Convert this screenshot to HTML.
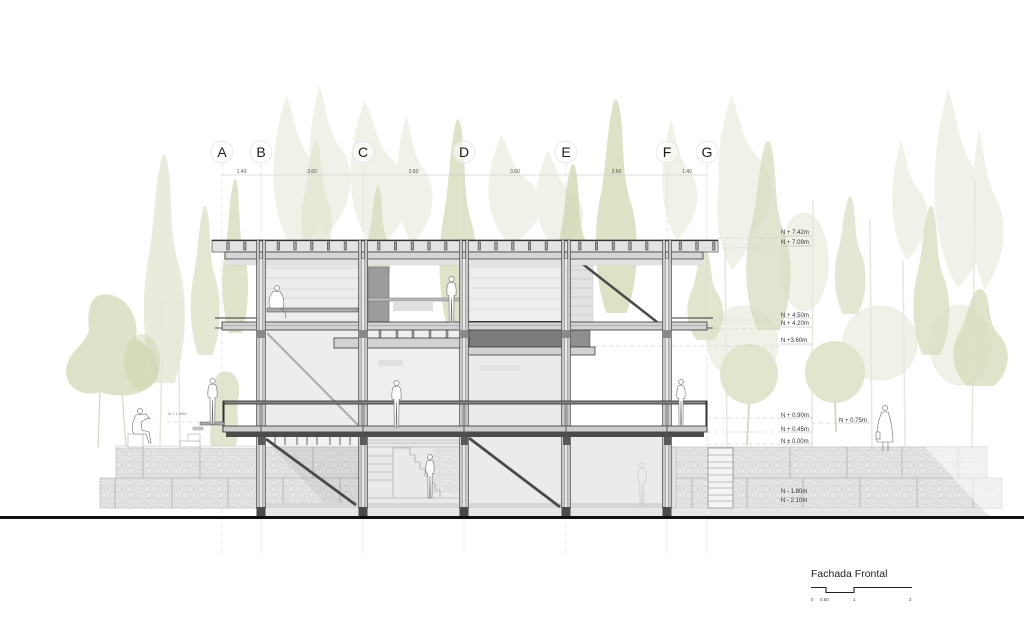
<!DOCTYPE html>
<html><head><meta charset="utf-8"><style>
html,body{margin:0;padding:0;background:#fff;}
svg{display:block;}
text{font-family:"Liberation Sans",Arial,sans-serif;}
</style></head><body>
<svg width="1024" height="622" viewBox="0 0 1024 622" xmlns="http://www.w3.org/2000/svg">
<defs>
<path id="fl" d="M0.3,1 C0.05,0.85 0.02,0.62 0.18,0.45 C0.3,0.32 0.3,0.15 0.45,0.02 C0.5,-0.01 0.56,0.01 0.6,0.08 C0.68,0.25 0.62,0.35 0.8,0.48 C1,0.62 0.98,0.85 0.72,1 Z"/>
<path id="lf" d="M0.45,1 C0.2,0.8 0.1,0.45 0.35,0 C0.5,0.25 0.45,0.3 0.7,0.45 C0.9,0.65 0.75,0.85 0.45,1 Z"/>
<pattern id="st" width="18" height="12" patternUnits="userSpaceOnUse">
<rect width="18" height="12" fill="#e6e6e6"/>
<path d="M1,1 L7,0.5 L8,5 L2,5.5 Z M9,1 L16,1.5 L17,5.5 L10,5 Z M0.5,7 L5,6.5 L6,11 L1,11.5 Z M7,7 L12,6.5 L13,11 L8,11.5 Z M14,7 L17.5,7 L17.5,11 L14.5,11.5 Z" fill="none" stroke="#cdcdcd" stroke-width=".5"/>
</pattern>
</defs>

<!-- ===== TREES: very pale layer ===== -->
<g fill="#eef1e6" opacity="0.9">
<use href="#lf" transform="translate(255,95) scale(90,160)"/>
<use href="#lf" transform="translate(295,85) scale(70,150)"/>
<use href="#lf" transform="translate(330,100) scale(100,150)"/>
<use href="#lf" transform="translate(385,115) scale(60,130)"/>
<use href="#lf" transform="translate(470,135) scale(90,110)"/>
<use href="#lf" transform="translate(520,150) scale(80,100)"/>
<use href="#lf" transform="translate(650,120) scale(60,120)"/>
<use href="#lf" transform="translate(700,95) scale(90,150)"/>
<use href="#lf" transform="translate(705,150) scale(60,120)"/>
<use href="#lf" transform="translate(915,88) scale(95,200)"/>
<use href="#lf" transform="translate(880,140) scale(60,120)"/>
<use href="#lf" transform="translate(960,130) scale(55,160)"/>
</g>
<g fill="#f0f2e8" stroke="#e4e7d9" stroke-width=".6">
<ellipse cx="804" cy="262" rx="24" ry="49"/>
<ellipse cx="743" cy="343" rx="35" ry="37"/>
<ellipse cx="880" cy="343" rx="37" ry="37"/>
<ellipse cx="960" cy="345" rx="30" ry="40"/>
</g>
<g stroke="#e6e8e0" stroke-width="1.5" fill="none">
<line x1="163" y1="300" x2="160" y2="447"/>
<line x1="178" y1="300" x2="180" y2="447"/>
<line x1="813" y1="200" x2="812" y2="447"/>
<line x1="870" y1="220" x2="872" y2="447"/>
<line x1="975" y1="180" x2="972" y2="447"/>
<line x1="725" y1="240" x2="727" y2="447"/>
<line x1="903" y1="260" x2="905" y2="447"/>
</g>

<!-- ===== TREES: medium layer ===== -->
<g opacity="0.8">
<use href="#fl" fill="#e3e8d4" transform="translate(140,153) scale(48,230)"/>
<use href="#fl" fill="#dce3c8" transform="translate(188,205) scale(34,150)"/>
<use href="#fl" fill="#d6ddbe" transform="translate(220,178) scale(30,155)"/>
<use href="#fl" fill="#e3e8d5" transform="translate(298,140) scale(36,120)"/>
<use href="#fl" fill="#d8dfc1" transform="translate(364,185) scale(28,110)"/>
<use href="#fl" fill="#d6ddbd" transform="translate(436,118) scale(44,215)"/>
<use href="#fl" fill="#d2dab5" transform="translate(553,163) scale(40,160)"/>
<use href="#fl" fill="#d5dcb9" transform="translate(592,98) scale(48,215)"/>
<use href="#fl" fill="#dae1c4" transform="translate(684,250) scale(42,90)"/>
<use href="#fl" fill="#d8dfc2" transform="translate(742,140) scale(52,190)"/>
<use href="#fl" fill="#dde3ca" transform="translate(832,196) scale(36,118)"/>
<use href="#fl" fill="#d9e0c3" transform="translate(910,205) scale(42,150)"/>
<use href="#fl" fill="#d6ddbd" transform="translate(948,288) scale(64,98)"/>
</g>
<path d="M100,295 C125,290 140,318 136,338 C152,348 163,365 156,380 C146,396 120,399 100,392 C80,398 62,385 67,365 C71,350 85,345 89,330 C87,312 90,298 100,295 Z" fill="#d7dec0" opacity=".85"/>
<ellipse cx="142" cy="362" rx="18" ry="28" fill="#c9d2a8" opacity=".45"/>
<g stroke="#d3d8c2" stroke-width="1.2"><line x1="100" y1="392" x2="98" y2="447"/><line x1="122" y1="392" x2="126" y2="447"/></g>
<ellipse cx="749" cy="374" rx="29" ry="30" fill="#e0e6cd"/>
<ellipse cx="835" cy="372" rx="30" ry="31" fill="#e0e6cd"/>
<g stroke="#d6dac6" stroke-width="2"><line x1="749" y1="403" x2="747" y2="445"/><line x1="835" y1="402" x2="836" y2="432"/></g>
<path d="M222,372 C236,368 242,385 238,400 C236,420 242,440 232,452 C222,458 210,452 210,440 C210,425 214,410 214,395 C214,382 215,374 222,372 Z" fill="#d8dfc1" opacity=".8"/>

<!-- ===== AXES ===== -->
<g stroke="#d2d2d2" stroke-width=".6" stroke-dasharray="5 3" fill="none">
<line x1="222" y1="164" x2="222" y2="556"/>
<line x1="261" y1="164" x2="261" y2="556"/>
<line x1="363" y1="164" x2="363" y2="556"/>
<line x1="464" y1="164" x2="464" y2="556"/>
<line x1="566" y1="164" x2="566" y2="556"/>
<line x1="667" y1="164" x2="667" y2="556"/>
<line x1="707" y1="164" x2="707" y2="556"/>
</g>
<g fill="#fff" fill-opacity=".55" stroke="#e0e0e0" stroke-width=".7">
<circle cx="222" cy="152" r="11"/><circle cx="261" cy="152" r="11"/><circle cx="363" cy="152" r="11"/>
<circle cx="464" cy="152" r="11"/><circle cx="566" cy="152" r="11"/><circle cx="667" cy="152" r="11"/><circle cx="707" cy="152" r="11"/>
</g>
<g font-size="14" fill="#1a1a1a" text-anchor="middle">
<text x="222" y="157">A</text><text x="261" y="157">B</text><text x="363" y="157">C</text>
<text x="464" y="157">D</text><text x="566" y="157">E</text><text x="667" y="157">F</text><text x="707" y="157">G</text>
</g>
<line x1="222" y1="175" x2="707" y2="175" stroke="#c4c4c4" stroke-width=".6"/>
<g font-size="5" fill="#555" text-anchor="middle">
<text x="241.5" y="173">1.40</text><text x="312" y="173">3.60</text><text x="413.5" y="173">3.60</text>
<text x="515" y="173">3.60</text><text x="616.5" y="173">3.60</text><text x="687" y="173">1.40</text>
</g>

<!-- ===== GABIONS ===== -->
<rect x="116" y="447" width="871" height="31" fill="url(#st)" stroke="#b4b4b4" stroke-width=".6"/>
<rect x="100" y="478" width="902" height="30" fill="url(#st)" stroke="#b4b4b4" stroke-width=".6"/>
<rect x="116" y="446" width="142" height="2.5" fill="#f2f2f2" stroke="#bdbdbd" stroke-width=".4"/>
<g stroke="#a8a8a8" stroke-width=".7">
<line x1="143" y1="447" x2="143" y2="478"/><line x1="200" y1="447" x2="200" y2="478"/><line x1="257" y1="447" x2="257" y2="478"/><line x1="313" y1="447" x2="313" y2="478"/>
<line x1="733" y1="447" x2="733" y2="478"/><line x1="790" y1="447" x2="790" y2="478"/><line x1="847" y1="447" x2="847" y2="478"/><line x1="902" y1="447" x2="902" y2="478"/><line x1="958" y1="447" x2="958" y2="478"/>
<line x1="115" y1="478" x2="115" y2="508"/><line x1="172" y1="478" x2="172" y2="508"/><line x1="228" y1="478" x2="228" y2="508"/><line x1="283" y1="478" x2="283" y2="508"/><line x1="340" y1="478" x2="340" y2="508"/>
<line x1="692" y1="478" x2="692" y2="508"/><line x1="747" y1="478" x2="747" y2="508"/><line x1="803" y1="478" x2="803" y2="508"/><line x1="860" y1="478" x2="860" y2="508"/><line x1="917" y1="478" x2="917" y2="508"/><line x1="973" y1="478" x2="973" y2="508"/>
</g>
<polygon points="925,447 1003,447 1003,508 981,508" fill="#fff" opacity=".55"/>
<polygon points="258,508 981,508 990,516 258,516" fill="#e7e7e7"/>
<polygon points="262,437 360,437 360,508 330,508" fill="#000" opacity=".05"/>

<!-- ===== BUILDING ===== -->
<rect x="266" y="259" width="93" height="63" fill="#ececec"/>
<g stroke="#d0d0d0" stroke-width=".8"><line x1="266" y1="268" x2="359" y2="268"/><line x1="266" y1="278" x2="359" y2="278"/><line x1="266" y1="289" x2="359" y2="289"/><line x1="266" y1="298" x2="359" y2="298"/></g>
<rect x="267" y="308" width="91" height="4" fill="#a8a8a8" stroke="#444" stroke-width=".5"/>
<rect x="368" y="262" width="40" height="2" fill="#c4c4c4"/>
<rect x="368" y="267" width="21" height="55" fill="#9c9c9c" stroke="#666" stroke-width=".6"/>
<rect x="368" y="298" width="92" height="3" fill="#bbb" stroke="#777" stroke-width=".5"/>
<rect x="393" y="301" width="40" height="10" fill="#e0e0e0"/>
<rect x="469" y="259" width="93" height="63" fill="#eeeeee" stroke="#bdbdbd" stroke-width=".5"/>
<g stroke="#d2d2d2" stroke-width=".8"><line x1="469" y1="267" x2="562" y2="267"/><line x1="469" y1="278" x2="562" y2="278"/><line x1="469" y1="288" x2="562" y2="288"/><line x1="469" y1="299" x2="562" y2="299"/><line x1="469" y1="309" x2="562" y2="309"/></g>
<line x1="469" y1="321.5" x2="562" y2="321.5" stroke="#333" stroke-width="1"/>
<rect x="570" y="262" width="23" height="60" fill="#e2e2e2" stroke="#bbb" stroke-width=".4"/>
<g stroke="#c8c8c8" stroke-width=".7"><line x1="570" y1="270" x2="593" y2="270"/><line x1="570" y1="279" x2="593" y2="279"/><line x1="570" y1="288" x2="593" y2="288"/><line x1="570" y1="297" x2="593" y2="297"/><line x1="570" y1="306" x2="593" y2="306"/><line x1="570" y1="315" x2="593" y2="315"/></g>
<line x1="575" y1="258" x2="657" y2="322" stroke="#4a4a4a" stroke-width="2.5"/>

<rect x="266" y="330" width="93" height="97" fill="#ededed"/>
<rect x="368" y="330" width="92" height="97" fill="#efefef"/>
<rect x="469" y="330" width="93" height="97" fill="#ebebeb"/>
<line x1="267" y1="333" x2="358" y2="425" stroke="#a0a0a0" stroke-width="2.2" opacity=".8"/>
<rect x="378" y="360" width="25" height="6" fill="#e0e0e0"/>
<rect x="480" y="365" width="40" height="6" fill="#e2e2e2"/>

<rect x="368" y="437" width="92" height="70" fill="#e9e9e9"/>
<rect x="469" y="437" width="93" height="70" fill="#ebebeb"/>
<rect x="570" y="437" width="92" height="70" fill="#ebebeb"/>
<rect x="433" y="448" width="27" height="45" fill="url(#st)" opacity=".8"/>
<g stroke="#999" stroke-width=".6" fill="none">
<line x1="368" y1="440" x2="460" y2="440"/><line x1="368" y1="443" x2="460" y2="443"/><line x1="368" y1="447" x2="460" y2="447"/>
<line x1="368" y1="456" x2="393" y2="456"/><line x1="368" y1="464" x2="393" y2="464"/><line x1="368" y1="472" x2="393" y2="472"/><line x1="368" y1="480" x2="393" y2="480"/>
<path d="M393,448 L410,448 L410,455 L415,455 L415,462 L420,462 L420,469 L425,469 L425,476 L430,476 L430,483 L435,483 L435,490 L440,490 L440,497"/>
<line x1="393" y1="448" x2="393" y2="497"/>
<line x1="368" y1="498" x2="460" y2="498"/>
</g>
<rect x="262" y="503" width="405" height="5" fill="#d6d6d6"/>
<line x1="266" y1="439" x2="356" y2="505" stroke="#4a4a4a" stroke-width="2.8"/>
<line x1="469" y1="438" x2="560" y2="507" stroke="#4a4a4a" stroke-width="2.8"/>

<g fill="#999" stroke="#444" stroke-width=".4">
<rect x="379" y="330" width="2" height="8"/><rect x="396" y="330" width="2" height="8"/><rect x="412" y="330" width="2" height="8"/><rect x="429" y="330" width="2" height="8"/><rect x="446" y="330" width="2" height="8"/>
</g>
<g stroke="#666" stroke-width="1">
<line x1="275" y1="437" x2="275" y2="445"/><line x1="285" y1="437" x2="285" y2="445"/><line x1="297" y1="437" x2="297" y2="445"/><line x1="307" y1="437" x2="307" y2="445"/><line x1="317" y1="437" x2="317" y2="445"/><line x1="330" y1="437" x2="330" y2="445"/><line x1="340" y1="437" x2="340" y2="445"/><line x1="350" y1="437" x2="350" y2="445"/>
</g>

<rect x="469" y="329" width="93" height="18" fill="#7b7b7b" stroke="#333" stroke-width=".6"/>
<rect x="570" y="329" width="20" height="18" fill="#8e8e8e" stroke="#444" stroke-width=".5"/>
<rect x="334" y="338" width="135" height="10" fill="#d2d2d2" stroke="#3a3a3a" stroke-width=".8"/>
<rect x="460" y="347" width="135" height="8" fill="#d2d2d2" stroke="#3a3a3a" stroke-width=".8"/>

<line x1="215" y1="318" x2="258" y2="318" stroke="#333" stroke-width="1"/>
<line x1="672" y1="318" x2="713" y2="318" stroke="#333" stroke-width="1"/>
<rect x="222" y="322" width="485" height="8" fill="#d3d3d3" stroke="#333" stroke-width=".8"/>
<line x1="222" y1="325.5" x2="707" y2="325.5" stroke="#8a8a8a" stroke-width=".5"/>
<line x1="215" y1="328" x2="222" y2="328" stroke="#333" stroke-width=".8"/>
<line x1="707" y1="328" x2="713" y2="328" stroke="#333" stroke-width=".8"/>

<rect x="212" y="240" width="506" height="12" fill="#e3e3e3" stroke="#555" stroke-width=".7"/>
<line x1="212" y1="240.5" x2="718" y2="240.5" stroke="#333" stroke-width="1.3"/>
<g fill="#a4a4a4" stroke="#2e2e2e" stroke-width=".5">
<rect x="226.8" y="242" width="2.4" height="8"/><rect x="243.6" y="242" width="2.4" height="8"/><rect x="277.1" y="242" width="2.4" height="8"/><rect x="293.8" y="242" width="2.4" height="8"/><rect x="310.6" y="242" width="2.4" height="8"/><rect x="327.3" y="242" width="2.4" height="8"/><rect x="344.1" y="242" width="2.4" height="8"/><rect x="377.6" y="242" width="2.4" height="8"/><rect x="394.3" y="242" width="2.4" height="8"/><rect x="411.1" y="242" width="2.4" height="8"/><rect x="427.8" y="242" width="2.4" height="8"/><rect x="444.6" y="242" width="2.4" height="8"/><rect x="478.1" y="242" width="2.4" height="8"/><rect x="494.8" y="242" width="2.4" height="8"/><rect x="511.6" y="242" width="2.4" height="8"/><rect x="528.3" y="242" width="2.4" height="8"/><rect x="545.1" y="242" width="2.4" height="8"/><rect x="578.6" y="242" width="2.4" height="8"/><rect x="595.3" y="242" width="2.4" height="8"/><rect x="612.1" y="242" width="2.4" height="8"/><rect x="628.8" y="242" width="2.4" height="8"/><rect x="645.6" y="242" width="2.4" height="8"/><rect x="679.1" y="242" width="2.4" height="8"/><rect x="695.8" y="242" width="2.4" height="8"/><rect x="712.6" y="242" width="2.4" height="8"/>
</g>
<rect x="225" y="259" width="478" height="6" fill="#ececec"/>
<g stroke="#c2c2c2" stroke-width=".5"><line x1="225" y1="261" x2="703" y2="261"/><line x1="225" y1="263" x2="703" y2="263"/><line x1="225" y1="265" x2="703" y2="265"/></g>
<rect x="225" y="252" width="478" height="7" fill="#d5d5d5" stroke="#3a3a3a" stroke-width=".8"/>

<!-- columns -->
<g fill="#c6c6c6" stroke="#3a3a3a" stroke-width=".6">
<rect x="256.5" y="240" width="3" height="268"/><rect x="262.5" y="240" width="3" height="268"/>
<rect x="358.5" y="240" width="3" height="268"/><rect x="364.5" y="240" width="3" height="268"/>
<rect x="459.5" y="240" width="3" height="268"/><rect x="465.5" y="240" width="3" height="268"/>
<rect x="561.5" y="240" width="3" height="268"/><rect x="567.5" y="240" width="3" height="268"/>
<rect x="662.5" y="240" width="3" height="268"/><rect x="668.5" y="240" width="3" height="268"/>
</g>
<g fill="#e8e8e8"><rect x="259.5" y="259" width="3" height="249"/><rect x="361.5" y="259" width="3" height="249"/><rect x="462.5" y="259" width="3" height="249"/><rect x="564.5" y="259" width="3" height="249"/><rect x="665.5" y="259" width="3" height="249"/></g>
<g fill="#4a4a4a">
<rect x="256.5" y="507" width="9" height="10"/><rect x="358.5" y="507" width="9" height="10"/><rect x="459.5" y="507" width="9" height="10"/><rect x="561.5" y="507" width="9" height="10"/><rect x="662.5" y="507" width="9" height="10"/>
</g>
<g fill="#8a8a8a"><rect x="256.5" y="330" width="9" height="8"/><rect x="358.5" y="330" width="9" height="8"/><rect x="459.5" y="330" width="9" height="8"/><rect x="561.5" y="330" width="9" height="8"/><rect x="662.5" y="330" width="9" height="8"/></g>

<!-- balcony -->
<rect x="223" y="401" width="484" height="3" fill="#8a8a8a" stroke="#222" stroke-width=".8"/>
<rect x="222.5" y="401" width="2" height="31" fill="#333"/>
<rect x="705.5" y="401" width="2" height="31" fill="#333"/>
<rect x="223" y="426" width="484" height="6" fill="#cdcdcd" stroke="#333" stroke-width=".8"/>
<rect x="226" y="432" width="478" height="5" fill="#4b4b4b"/>
<g stroke="#555" stroke-width="1"><line x1="261" y1="404" x2="261" y2="437"/><line x1="363" y1="404" x2="363" y2="437"/><line x1="464" y1="404" x2="464" y2="437"/><line x1="566" y1="404" x2="566" y2="437"/><line x1="667" y1="404" x2="667" y2="437"/></g>
<g fill="#5a5a5a"><rect x="258" y="437" width="7" height="8"/><rect x="360" y="437" width="7" height="8"/><rect x="461" y="437" width="7" height="8"/><rect x="563" y="437" width="7" height="8"/><rect x="664" y="437" width="7" height="8"/></g>

<!-- left platform -->
<rect x="200" y="422" width="24" height="3" fill="#aaa" stroke="#555" stroke-width=".5"/>
<rect x="193" y="427" width="10" height="3" fill="#ccc" stroke="#888" stroke-width=".4"/>
<g fill="#fff" stroke="#aaa" stroke-width=".6">
<rect x="128" y="434" width="15" height="13"/>
<rect x="180" y="441" width="20" height="6"/>
<rect x="188" y="434" width="12" height="7"/>
</g>
<rect x="708" y="448" width="25" height="60" fill="#f4f4f4" stroke="#777" stroke-width=".6"/>
<g stroke="#888" stroke-width=".6"><line x1="708" y1="455" x2="733" y2="455"/><line x1="708" y1="462" x2="733" y2="462"/><line x1="708" y1="468" x2="733" y2="468"/><line x1="708" y1="475" x2="733" y2="475"/><line x1="708" y1="482" x2="733" y2="482"/><line x1="708" y1="488" x2="733" y2="488"/><line x1="708" y1="495" x2="733" y2="495"/><line x1="708" y1="501" x2="733" y2="501"/></g>
<rect x="672" y="447" width="4" height="61" fill="#e6e6e6" stroke="#aaa" stroke-width=".5"/>

<!-- people -->
<g fill="#fff" stroke="#6a6a6a" stroke-width=".6">
<g transform="translate(206,378)"><circle cx="6.5" cy="3" r="2.6"/><path d="M4,6.5 C2,8 1.5,14 2,19 L4,19.5 L4.2,46 L6,46 L6.5,22 L7,46 L8.8,46 L9,19.5 L11,19 C11.5,14 11,8 9,6.5 Z"/></g>
<g transform="translate(390,380)"><circle cx="6.5" cy="3" r="2.6"/><path d="M4,6.5 C2,8 1.5,14 2,19 L4,19.5 L4.2,47 L6,47 L6.5,22 L7,47 L8.8,47 L9,19.5 L11,19 C11.5,14 11,8 9,6.5 Z"/></g>
<g transform="translate(445,276)"><circle cx="6.5" cy="3" r="2.6"/><path d="M4,6.5 C2,8 1.5,14 2,19 L4,19.5 L4.2,46 L6,46 L6.5,22 L7,46 L8.8,46 L9,19.5 L11,19 C11.5,14 11,8 9,6.5 Z"/></g>
<g transform="translate(675,379)"><circle cx="6" cy="3" r="2.4"/><path d="M3.8,6.5 C2,8 1.5,14 2,19 L3.8,19.5 L4,47 L5.6,47 L6,22 L6.4,47 L8,47 L8.2,19.5 L10,19 C10.5,14 10,8 8.2,6.5 Z"/></g>
<g transform="translate(424,454)"><circle cx="6" cy="3" r="2.4"/><path d="M3.8,6.5 C2,8 1.5,14 2,19 L3.8,19.5 L4,44 L5.6,44 L6,22 L6.4,44 L8,44 L8.2,19.5 L10,19 C10.5,14 10,8 8.2,6.5 Z"/></g>
<circle cx="277" cy="288" r="2.6"/>
<path d="M273,291.5 C268,298 268,306 271,308 L283,308 C285,302 283,295 280,291.5 Z"/>
<path d="M280,308 L285,312 L286,318" fill="none"/>
<circle cx="140" cy="411" r="2.6"/>
<path d="M136,415 C132,422 131,430 134,434 L146,434 L149,443 L151,443 L149,432 L142,430 L141,422 L148,418 L150,419 L146,414 Z"/>
<circle cx="885" cy="408" r="2.6"/>
<path d="M882,412 C878,420 876,434 877,442 L893,442 C893,432 891,420 888,412 Z"/>
<path d="M883,442 L883,451 M888,442 L888,451" fill="none"/>
<rect x="876" y="432" width="4" height="7"/>
</g>
<g fill="none" stroke="#c8c8c8" stroke-width=".6">
<g transform="translate(636,462)"><circle cx="6" cy="3" r="2.4"/><path d="M3.8,6.5 C2,8 1.5,14 2,19 L3.8,19.5 L4,43 L5.6,43 L6,22 L6.4,43 L8,43 L8.2,19.5 L10,19 C10.5,14 10,8 8.2,6.5 Z"/></g>
</g>

<!-- ===== GROUND ===== -->
<rect x="0" y="516" width="1024" height="3" fill="#111"/>

<!-- ===== LEVEL LINES & LABELS ===== -->
<g stroke="#c4c4c4" stroke-width=".6" stroke-dasharray="4 3" fill="none">
<line x1="718" y1="238" x2="781" y2="238"/>
<line x1="703" y1="248" x2="781" y2="248"/>
<line x1="713" y1="320" x2="781" y2="320"/>
<line x1="707" y1="329" x2="781" y2="329"/>
<line x1="595" y1="346" x2="781" y2="346"/>
<line x1="707" y1="418" x2="781" y2="418"/>
<line x1="707" y1="432" x2="781" y2="432"/>
<line x1="707" y1="444" x2="781" y2="444"/>
<line x1="812" y1="423" x2="838" y2="423"/>
<line x1="167" y1="422" x2="199" y2="422"/>
</g>
<g stroke="#aaa" stroke-width=".5">
<line x1="781" y1="236" x2="812" y2="236"/><line x1="781" y1="246" x2="812" y2="246"/>
<line x1="781" y1="318" x2="812" y2="318"/><line x1="781" y1="327" x2="812" y2="327"/>
<line x1="781" y1="344" x2="812" y2="344"/>
<line x1="781" y1="418" x2="812" y2="418"/><line x1="781" y1="432" x2="812" y2="432"/>
<line x1="781" y1="444" x2="812" y2="444"/><line x1="838" y1="423" x2="870" y2="423"/>
</g>
<g font-size="6" fill="#333">
<text x="781" y="234">N + 7.42m</text>
<text x="781" y="244">N + 7.09m</text>
<text x="781" y="317">N + 4.50m</text>
<text x="781" y="325">N + 4.20m</text>
<text x="781" y="342">N +3.60m</text>
<text x="781" y="417">N + 0.90m</text>
<text x="781" y="431">N + 0.45m</text>
<text x="781" y="443">N ± 0.00m</text>
<text x="839" y="422">N + 0.75m</text>
<text x="781" y="493">N - 1.80m</text>
<text x="781" y="502">N - 2.10m</text>
</g>
<text x="168" y="415" font-size="4" fill="#777">N + 1.00m</text>

<!-- ===== TITLE & SCALE ===== -->
<text x="811" y="577" font-size="10.5" fill="#222">Fachada Frontal</text>
<path d="M811,587.5 L826,587.5 L826,592.5 L854,592.5 L854,587.5 L912,587.5" fill="none" stroke="#222" stroke-width="1.1"/>
<g font-size="4.5" fill="#444">
<text x="811" y="601">0</text><text x="820" y="601">0.50</text><text x="853" y="601">1</text><text x="909" y="601">2</text>
</g>
</svg>
</body></html>
